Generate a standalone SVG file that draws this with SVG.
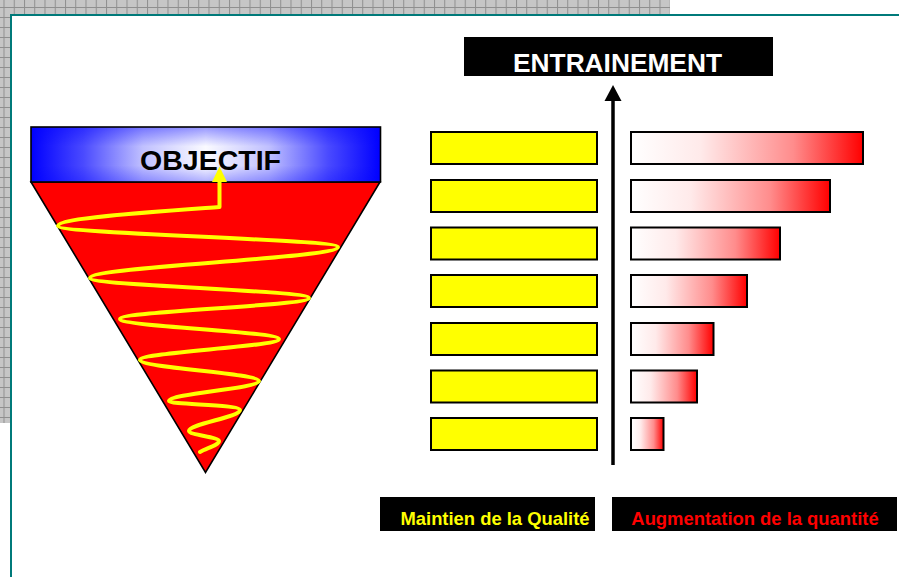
<svg xmlns="http://www.w3.org/2000/svg" width="899" height="577" viewBox="0 0 899 577">
  <defs>
    <pattern id="grid" x="3.5" y="7" width="10.25" height="10" patternUnits="userSpaceOnUse">
      <rect width="10.25" height="10" fill="#c6c6c6"/>
      <path d="M0 0.5H10.25M0.5 0V10" stroke="#8f8f8f" stroke-width="1" fill="none"/>
    </pattern>
    <linearGradient id="blueH" x1="0" y1="0" x2="1" y2="0">
      <stop offset="0" stop-color="#0000ff"/>
      <stop offset="0.15" stop-color="#4a4aff"/>
      <stop offset="0.32" stop-color="#c0c0ff"/>
      <stop offset="0.5" stop-color="#fafaff"/>
      <stop offset="0.68" stop-color="#c0c0ff"/>
      <stop offset="0.85" stop-color="#4a4aff"/>
      <stop offset="1" stop-color="#0000ff"/>
    </linearGradient>
    <linearGradient id="blueV" x1="0" y1="0" x2="0" y2="1">
      <stop offset="0" stop-color="#0000ff" stop-opacity="0.4"/>
      <stop offset="0.35" stop-color="#0000ff" stop-opacity="0"/>
      <stop offset="0.7" stop-color="#0000ff" stop-opacity="0"/>
      <stop offset="1" stop-color="#0000ff" stop-opacity="0.3"/>
    </linearGradient>
    <linearGradient id="redFade" x1="0" y1="0" x2="1" y2="0">
      <stop offset="0" stop-color="#ffffff"/>
      <stop offset="0.3" stop-color="#ffeaea"/>
      <stop offset="0.7" stop-color="#ff8c8c"/>
      <stop offset="1" stop-color="#ff0000"/>
    </linearGradient>
    <style>
      .bold { font-family: "Liberation Sans", Arial, sans-serif; font-weight: bold; }
      .yellowBar { fill: #ffff00; stroke: #000; stroke-width: 2; }
      .redBar { fill: url(#redFade); stroke: #000; stroke-width: 2; }
      .labelBox { fill: #000; }
      .frame { stroke: #007a7a; stroke-width: 2; fill: none; }
    </style>
  </defs>

  <!-- page background and window frame -->
  <rect width="899" height="577" fill="#ffffff"/>
  <rect x="0" y="0" width="670" height="14" fill="url(#grid)"/>
  <rect x="0" y="0" width="10" height="423" fill="url(#grid)"/>
  <path class="frame" d="M899 15 H11 V577"/>

  <!-- inverted triangle with objective band -->
  <g id="objectif">
    <path d="M31 182 L380 182 L205.5 472.5 Z" fill="#ff0000" stroke="#000" stroke-width="1.6" stroke-linejoin="miter"/>
    <rect x="31" y="127" width="349.5" height="55" fill="url(#blueH)"/>
    <rect x="31" y="127" width="349.5" height="55" fill="url(#blueV)" stroke="#000" stroke-width="1.6"/>
    <text x="210.5" y="170" text-anchor="middle" class="bold" font-size="28.5" fill="#000">OBJECTIF</text>
  </g>

  <!-- yellow spiral climbing to the objective -->
  <g id="spiral" fill="none" stroke="#ffff00" stroke-width="4" stroke-linecap="round" stroke-linejoin="round">
    <path d="M200 452
             C207 448 219 445 219 441
             C219 437 189 435 189 431
             C189 424 240 417 240 410
             C240 404 169 405 169 401
             C169 393.7 259 388.3 259 381
             C259 373.4 140 367.6 140 360
             C140 352.4 279 346.6 279 339
             C279 331.7 120 326.3 120 319
             C120 311.4 309 305.6 309 298
             C309 290.7 90 285.3 90 278
             C90 266.7 338 258.3 338 247
             C338 239.4 58 233.6 58 226
             C58 218 150 212 219.5 207
             L219.5 181"/>
    <path d="M219.5 166.5 L227 182 L212 182 Z" fill="#ffff00" stroke="none"/>
  </g>

  <!-- training axis -->
  <g id="axis">
    <line x1="613" y1="465" x2="613" y2="100" stroke="#000" stroke-width="3.5"/>
    <path d="M613 85 L621.5 101 L604.5 101 Z" fill="#000"/>
  </g>

  <g id="entrainement">
    <rect x="464" y="37" width="309" height="39" fill="#000"/>
    <text x="617.5" y="72" text-anchor="middle" class="bold" font-size="26.3" fill="#ffffff">ENTRAINEMENT</text>
  </g>

  <!-- quality bars (constant) -->
  <g id="qualite">
    <rect class="yellowBar" x="431" y="132" width="166" height="32"/>
    <rect class="yellowBar" x="431" y="180" width="166" height="32"/>
    <rect class="yellowBar" x="431" y="227.5" width="166" height="32"/>
    <rect class="yellowBar" x="431" y="275" width="166" height="32"/>
    <rect class="yellowBar" x="431" y="323" width="166" height="32"/>
    <rect class="yellowBar" x="431" y="370.5" width="166" height="32"/>
    <rect class="yellowBar" x="431" y="418" width="166" height="32"/>
  </g>

  <!-- quantity bars (growing) -->
  <g id="quantite">
    <rect class="redBar" x="631" y="132" width="232" height="32"/>
    <rect class="redBar" x="631" y="180" width="199" height="32"/>
    <rect class="redBar" x="631" y="227.5" width="149" height="32"/>
    <rect class="redBar" x="631" y="275" width="116" height="32"/>
    <rect class="redBar" x="631" y="323" width="82.5" height="32"/>
    <rect class="redBar" x="631" y="370.5" width="66" height="32"/>
    <rect class="redBar" x="631" y="418" width="32.5" height="32"/>
  </g>

  <!-- legends -->
  <g id="legende-qualite">
    <rect class="labelBox" x="380" y="497" width="215" height="34"/>
    <text x="495" y="525" text-anchor="middle" class="bold" font-size="18.4" fill="#ffff00">Maintien de la Qualité</text>
  </g>
  <g id="legende-quantite">
    <rect class="labelBox" x="612" y="497" width="285" height="34"/>
    <text x="755" y="525" text-anchor="middle" class="bold" font-size="18.4" fill="#ff0000">Augmentation de la quantité</text>
  </g>
</svg>
